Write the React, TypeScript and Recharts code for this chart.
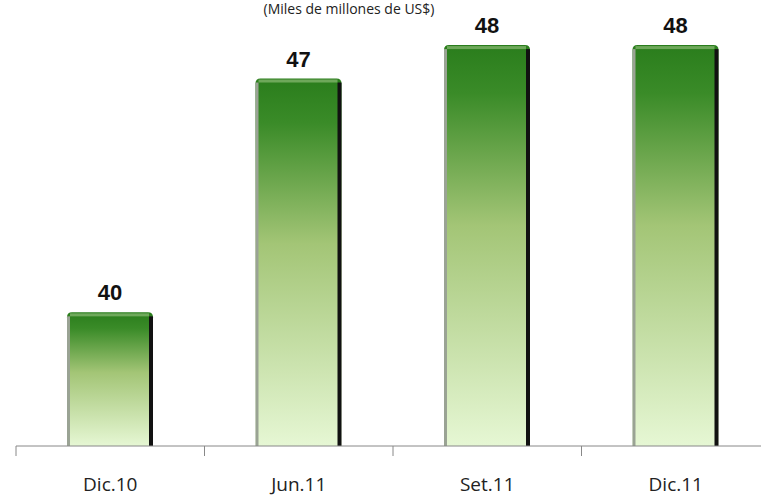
import { BarChart, Bar, XAxis, YAxis, LabelList } from "recharts";

// periods and reserve values (miles de millones de US$)
const categories = ["Dic.10", "Jun.11", "Set.11", "Dic.11"];
const values = [40, 47, 48, 48];
const valueLabels = ["40", "47", "48", "48"];

const data = categories.map((name, i) => ({
  name,
  value: values[i],
  label: valueLabels[i],
}));

const BAND = 188.5;

function GreenBar(props: any) {
  const { x, y, width, height } = props;
  if (!height || height <= 0) return null;
  const r = 5;
  const path = `M${x},${y + height} L${x},${y + r} Q${x},${y} ${x + r},${y} L${x + width - r},${y} Q${x + width},${y} ${x + width},${y + r} L${x + width},${y + height} Z`;
  return (
    <g>
      <path d={path} fill="url(#barGrad)" />
      <rect x={x} y={y + 4} width={3} height={height - 4} fill="#9aa394" />
      <rect x={x + width - 4} y={y + 4} width={4} height={height - 4} fill="#111" />
      <rect x={x + 3} y={y + 1} width={width - 7} height={3} fill="#7fb36a" opacity={0.8} />
    </g>
  );
}

function CatTick(props: any) {
  const { x, y, payload } = props;
  return (
    <g>
      <line x1={x - BAND / 2} y1={y - 8} x2={x - BAND / 2} y2={y + 2} stroke="#888" />
      <text
        x={x}
        y={y + 37}
        textAnchor="middle"
        fontFamily="Open Sans, sans-serif"
        fontSize={19}
        fill="#222"
      >
        {payload.value}
      </text>
    </g>
  );
}

export default function App() {
  return (
    <div style={{ position: "absolute", left: 0, top: 0, width: 761, height: 497, overflow: "hidden", background: "#fff" }}>
      <svg width={761} height={20} style={{ position: "absolute", left: 0, top: 0 }}>
        <text
          x={349}
          y={14}
          textAnchor="middle"
          fontFamily="Open Sans, sans-serif"
          fontSize={14}
          fill="#222"
        >
          (Miles de millones de US$)
        </text>
      </svg>
      <BarChart
        width={800}
        height={497}
        data={data}
        margin={{ top: 0, right: 30, left: 16, bottom: 0 }}
        barCategoryGap={0}
      >
        <defs>
          <linearGradient id="barGrad" x1="0" y1="0" x2="0" y2="1">
            <stop offset="0%" stopColor="#2a7d1c" />
            <stop offset="12%" stopColor="#3a8b28" />
            <stop offset="45%" stopColor="#a3c576" />
            <stop offset="100%" stopColor="#e6f7d4" />
          </linearGradient>
        </defs>
        <XAxis
          dataKey="name"
          height={51}
          axisLine={{ stroke: "#888" }}
          tickLine={false}
          tick={<CatTick />}
          interval={0}
        />
        <YAxis hide domain={[36, 49.35]} allowDataOverflow />
        <Bar dataKey="value" barSize={86} shape={<GreenBar />} isAnimationActive={false}>
          <LabelList
            dataKey="label"
            position="top"
            offset={12}
            style={{ fontFamily: "Liberation Sans, Arial, sans-serif", fontWeight: 700, fontSize: 22, fill: "#111" }}
          />
        </Bar>
      </BarChart>
    </div>
  );
}
